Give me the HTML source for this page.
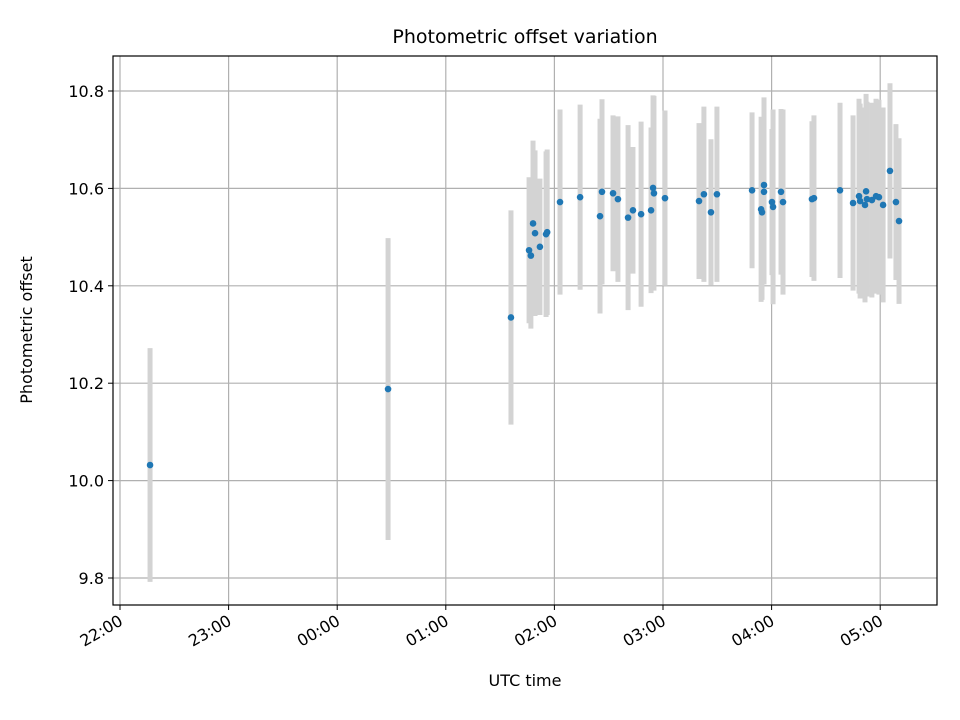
<!DOCTYPE html>
<html><head><meta charset="utf-8"><style>
body{margin:0;background:#fff}
svg{display:block;font-family:"DejaVu Sans","Liberation Sans",sans-serif}
</style></head><body>
<svg id="chart" width="960" height="720" viewBox="0 0 960 720">
<rect width="960" height="720" fill="#fff"/>
<text x="525" y="43" font-size="19" text-anchor="middle">Photometric offset variation</text>
<g id="grid"></g><g id="errs"></g><g id="pts"></g><g id="ticks"></g>
<rect x="113" y="56" width="824" height="549" fill="none" stroke="#000" stroke-width="1.2"/>
<text x="525" y="686" font-size="16" text-anchor="middle">UTC time</text>
<text transform="translate(32,330) rotate(-90)" font-size="16" text-anchor="middle">Photometric offset</text>
</svg>
<script>
// minutes since 22:00
const times=[16.6,148.1,216,226,227,228.2,229.3,232,235.4,236,243.1,254.2,265.2,266.3,272.4,275.1,280.7,283.4,287.9,293.4,294.5,295,301.1,319.9,322.6,326.5,329.8,349.2,354.2,354.7,355.8,355.8,360.2,360.8,365.2,366.3,382.3,383.4,397.8,405,408.3,408.9,412.2,411.6,412.7,415.4,417.7,419.3,421.6,425.4,428.7,430.4];
const offsets=[10.032,10.188,10.335,10.473,10.462,10.528,10.508,10.48,10.506,10.51,10.572,10.582,10.543,10.593,10.59,10.578,10.54,10.555,10.547,10.555,10.601,10.59,10.58,10.574,10.588,10.551,10.588,10.596,10.557,10.551,10.607,10.593,10.572,10.562,10.593,10.572,10.578,10.58,10.596,10.57,10.584,10.574,10.594,10.566,10.578,10.576,10.584,10.582,10.566,10.636,10.572,10.533];
const errors=[0.24,0.31,0.22,0.15,0.15,0.17,0.17,0.14,0.17,0.17,0.19,0.19,0.2,0.19,0.16,0.17,0.19,0.13,0.19,0.17,0.19,0.2,0.18,0.16,0.18,0.15,0.18,0.16,0.19,0.18,0.18,0.19,0.15,0.2,0.17,0.19,0.16,0.17,0.18,0.18,0.2,0.2,0.2,0.2,0.2,0.2,0.2,0.2,0.2,0.18,0.16,0.17];
const xTickLabels=["22:00","23:00","00:00","01:00","02:00","03:00","04:00","05:00"];
const yTickValues=[9.8,10.0,10.2,10.4,10.6,10.8];
const NS="http://www.w3.org/2000/svg";
const xs=m=>120+m*108.6/60;
const ys=v=>91+(10.8-v)*487;
function mk(t,a,p){const e=document.createElementNS(NS,t);for(const k in a)e.setAttribute(k,a[k]);document.getElementById(p).appendChild(e);return e;}
xTickLabels.forEach((lab,i)=>{const x=xs(i*60);
 const g=mk('line',{x1:x,x2:x,y1:56,y2:605,stroke:'#b0b0b0','stroke-width':1.2},'grid');
 
 
 mk('line',{x1:x,x2:x,y1:605,y2:610,stroke:'#000'},'ticks');
 const t=mk('text',{x:x+4,y:624,'font-size':16,'text-anchor':'end',transform:`rotate(-30 ${x+4} 624)`},'ticks');t.textContent=lab;
 
 
});
yTickValues.forEach(v=>{const y=ys(v);
 const g=mk('line',{x1:113,x2:937,y1:y,y2:y,stroke:'#b0b0b0','stroke-width':1.2},'grid');
 
 
 mk('line',{x1:108,x2:113,y1:y,y2:y,stroke:'#000'},'ticks');
 const t=mk('text',{x:104,y:y+6,'font-size':16,'text-anchor':'end'},'ticks');t.textContent=v.toFixed(1);
 
 
});
times.forEach((m,i)=>{const x=xs(m);
 const e=mk('line',{x1:x,x2:x,y1:ys(offsets[i]+errors[i]),y2:ys(offsets[i]-errors[i]),stroke:'#d3d3d3','stroke-width':5},'errs');
 
 
 const c=mk('circle',{cx:x,cy:ys(offsets[i]),r:3.3,fill:'#1f77b4'},'pts');
 
 
});
</script>
</body></html>
